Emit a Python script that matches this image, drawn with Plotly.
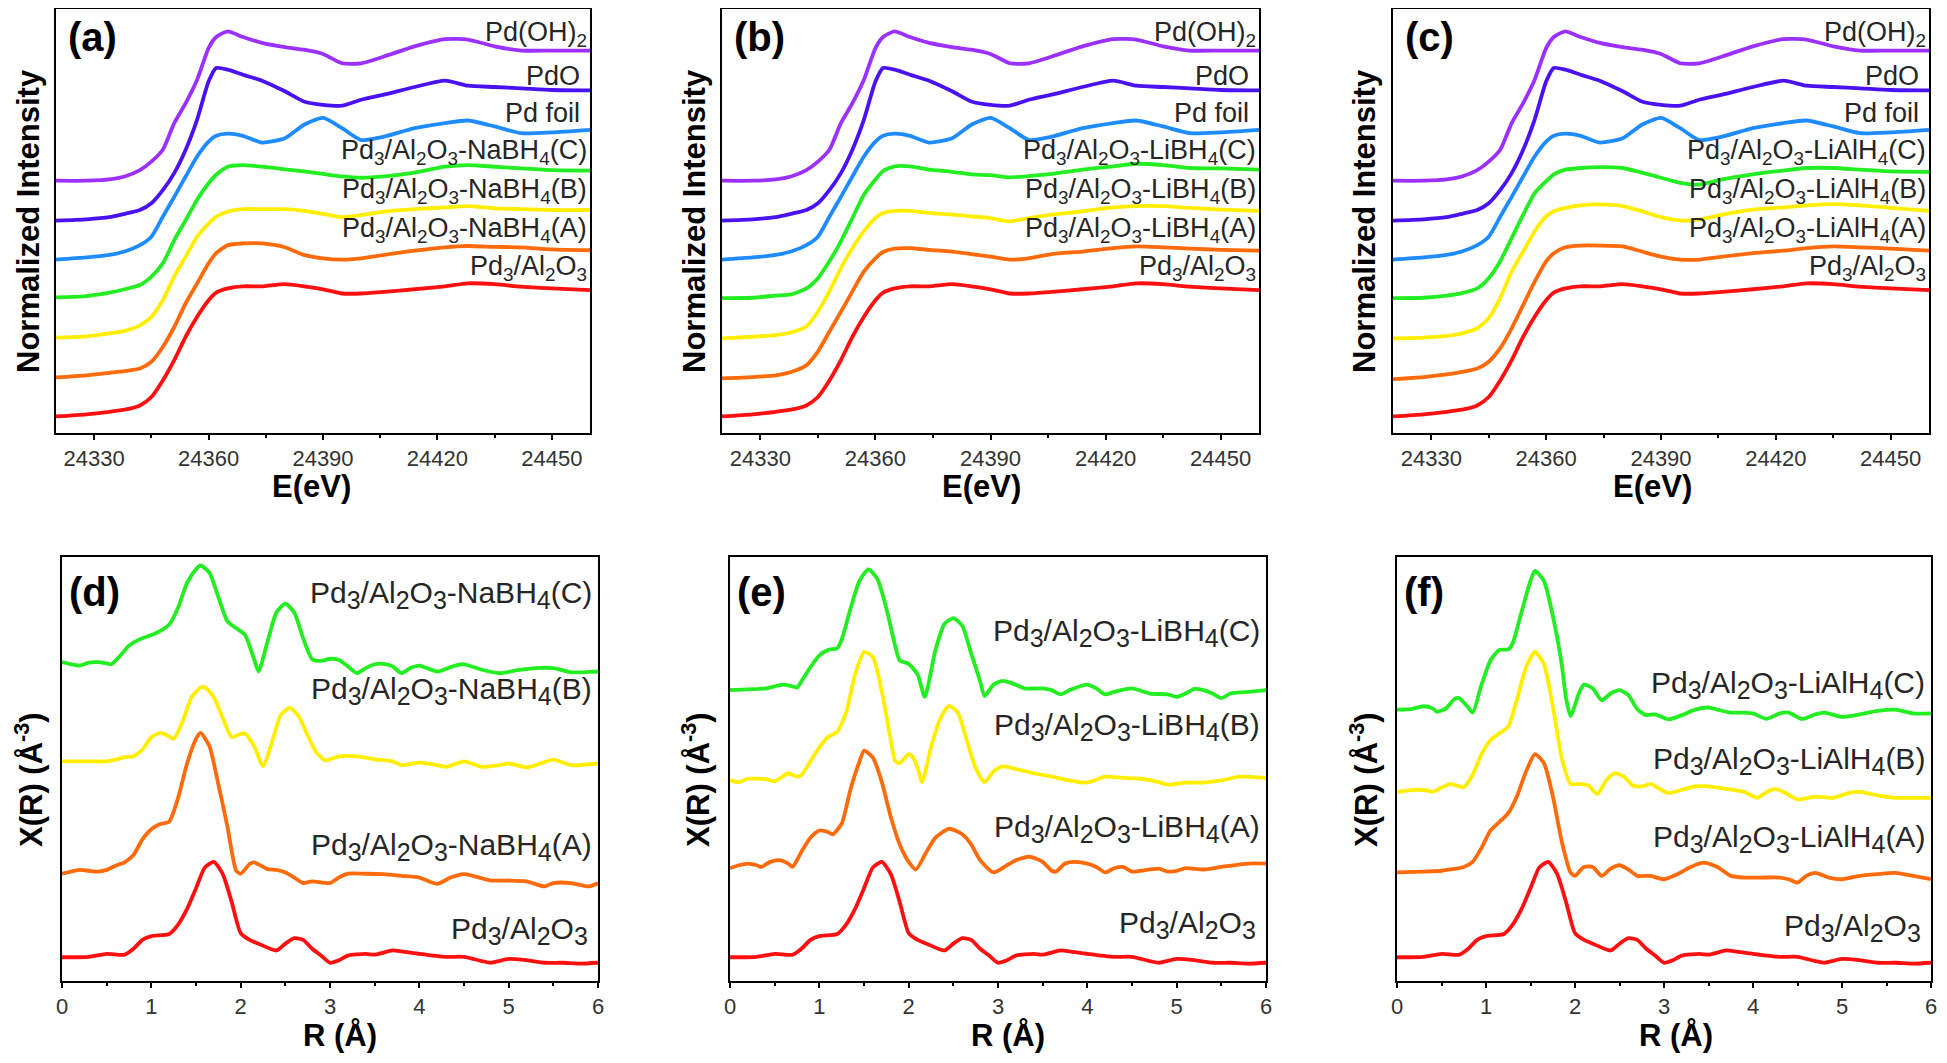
import plotly.graph_objects as go

# ---------------- XANES (a)-(c): energy grid in eV, stacked normalized intensity ----------------
energy = [24320, 24328, 24334, 24338, 24342, 24345, 24348, 24351, 24354, 24357,
          24360, 24362, 24365, 24369, 24374, 24380, 24385, 24390, 24395, 24400,
          24406, 24414, 24422, 24428, 24435, 24442, 24450, 24460]
energy_ticks = [24330, 24360, 24390, 24420, 24450]

pd_oh2 = [5.95, 5.95, 5.98, 6.05, 6.20, 6.40, 6.68, 7.31, 7.78, 8.33,
          9.08, 9.34, 9.47, 9.34, 9.20, 9.10, 9.04, 8.94, 8.72, 8.72,
          8.88, 9.12, 9.29, 9.28, 9.12, 9.02, 9.02, 9.02]
pdo = [5.01, 5.04, 5.09, 5.17, 5.26, 5.42, 5.73, 6.13, 6.68, 7.39,
       8.29, 8.61, 8.57, 8.45, 8.31, 8.06, 7.82, 7.74, 7.72, 7.86,
       7.98, 8.16, 8.31, 8.19, 8.16, 8.13, 8.09, 8.08]
pd_foil = [4.09, 4.14, 4.20, 4.28, 4.43, 4.63, 5.10, 5.57, 6.05, 6.52,
           6.87, 7.01, 7.06, 7.01, 6.85, 6.95, 7.27, 7.43, 7.19, 6.91,
           6.99, 7.19, 7.31, 7.37, 7.23, 7.07, 7.09, 7.15]
pd3_xanes = [0.39, 0.44, 0.50, 0.55, 0.65, 0.85, 1.24, 1.72, 2.27, 2.74,
             3.13, 3.31, 3.41, 3.46, 3.46, 3.51, 3.46, 3.39, 3.29, 3.29,
             3.33, 3.39, 3.46, 3.53, 3.51, 3.45, 3.41, 3.37]

nabh4_c_xanes = [3.20, 3.23, 3.31, 3.39, 3.49, 3.69, 4.00, 4.55, 5.02, 5.50,
                 5.89, 6.09, 6.28, 6.32, 6.28, 6.22, 6.17, 6.11, 6.05, 6.02,
                 6.05, 6.14, 6.28, 6.32, 6.28, 6.24, 6.20, 6.19]
nabh4_b_xanes = [2.25, 2.28, 2.35, 2.41, 2.54, 2.74, 3.13, 3.69, 4.16, 4.63,
                 4.94, 5.10, 5.22, 5.28, 5.28, 5.28, 5.24, 5.17, 5.09, 5.14,
                 5.22, 5.28, 5.32, 5.35, 5.30, 5.28, 5.26, 5.26]
nabh4_a_xanes = [1.31, 1.36, 1.42, 1.46, 1.52, 1.68, 2.03, 2.50, 3.06, 3.53,
                 4.00, 4.24, 4.43, 4.47, 4.47, 4.38, 4.20, 4.12, 4.09, 4.12,
                 4.20, 4.30, 4.38, 4.41, 4.39, 4.38, 4.33, 4.31]

libh4_c_xanes = [3.18, 3.19, 3.24, 3.27, 3.41, 3.65, 4.05, 4.52, 5.07, 5.62,
                 5.98, 6.18, 6.29, 6.29, 6.21, 6.16, 6.10, 6.08, 6.03, 6.06,
                 6.11, 6.21, 6.29, 6.35, 6.32, 6.25, 6.24, 6.21]
libh4_b_xanes = [2.23, 2.27, 2.31, 2.37, 2.51, 2.86, 3.34, 3.89, 4.36, 4.76,
                 5.07, 5.19, 5.24, 5.24, 5.19, 5.15, 5.11, 5.07, 4.99, 5.07,
                 5.15, 5.23, 5.32, 5.35, 5.35, 5.31, 5.27, 5.24]
libh4_a_xanes = [1.29, 1.32, 1.36, 1.44, 1.60, 1.92, 2.39, 2.86, 3.34, 3.81,
                 4.12, 4.27, 4.35, 4.36, 4.32, 4.28, 4.22, 4.16, 4.09, 4.12,
                 4.22, 4.28, 4.36, 4.40, 4.38, 4.35, 4.32, 4.30]

lialh4_c_xanes = [3.18, 3.19, 3.24, 3.30, 3.41, 3.65, 4.05, 4.60, 5.15, 5.66,
                  5.94, 6.10, 6.21, 6.25, 6.27, 6.25, 6.14, 6.02, 5.90, 5.86,
                  5.98, 6.10, 6.19, 6.25, 6.25, 6.21, 6.17, 6.16]
lialh4_b_xanes = [2.23, 2.25, 2.29, 2.35, 2.47, 2.71, 3.18, 3.81, 4.28, 4.76,
                  5.11, 5.23, 5.31, 5.37, 5.39, 5.35, 5.23, 5.09, 5.01, 5.03,
                  5.15, 5.27, 5.32, 5.37, 5.40, 5.37, 5.31, 5.24]
lialh4_a_xanes = [1.27, 1.32, 1.38, 1.44, 1.52, 1.68, 2.00, 2.47, 3.02, 3.57,
                  4.05, 4.24, 4.38, 4.42, 4.42, 4.40, 4.28, 4.16, 4.09, 4.09,
                  4.16, 4.24, 4.30, 4.36, 4.40, 4.38, 4.35, 4.30]

# ---------------- EXAFS (d)-(f): R in Angstrom, stacked |X(R)| ----------------
r_base = [0, 0.3, 0.5, 0.7, 0.8, 0.9, 1.0, 1.2, 1.3, 1.4, 1.5, 1.6, 1.7, 1.8, 1.9,
          2.0, 2.1, 2.2, 2.4, 2.5, 2.6, 2.7, 2.8, 2.9, 3.0, 3.1, 3.2, 3.4, 3.5, 3.7,
          3.8, 4.0, 4.3, 4.5, 4.7, 4.8, 5.0, 5.2, 5.4, 5.6, 5.8, 6.0]
chi_base = [0.56, 0.57, 0.64, 0.62, 0.76, 0.97, 1.06, 1.11, 1.33, 1.70, 2.19, 2.68, 2.81, 2.52, 1.86,
            1.13, 0.97, 0.88, 0.72, 0.88, 1.01, 0.97, 0.76, 0.60, 0.43, 0.49, 0.60, 0.64, 0.62, 0.72,
            0.70, 0.64, 0.57, 0.57, 0.47, 0.43, 0.52, 0.49, 0.43, 0.43, 0.41, 0.43]

r_nabh4_c = [0, 0.1, 0.2, 0.3, 0.4, 0.5, 0.55, 0.65, 0.75, 0.85, 1.0, 1.1, 1.2, 1.3, 1.4, 1.5, 1.55,
             1.65, 1.75, 1.85, 1.95, 2.05, 2.15, 2.2, 2.3, 2.4, 2.5, 2.6, 2.7, 2.8, 2.9, 3.0, 3.1,
             3.2, 3.3, 3.4, 3.5, 3.6, 3.7, 3.8, 3.9, 4.0, 4.2, 4.4, 4.5, 4.7, 4.9, 5.1, 5.3, 5.5,
             5.7, 5.9, 6.0]
chi_nabh4_c = [7.52, 7.47, 7.44, 7.51, 7.52, 7.49, 7.47, 7.67, 7.91, 8.04, 8.16, 8.26, 8.41, 8.81,
               9.39, 9.71, 9.80, 9.63, 9.06, 8.49, 8.32, 8.16, 7.59, 7.30, 8.00, 8.69, 8.90, 8.69,
               8.08, 7.59, 7.55, 7.60, 7.57, 7.42, 7.26, 7.38, 7.47, 7.48, 7.42, 7.26, 7.38, 7.44,
               7.30, 7.44, 7.47, 7.34, 7.26, 7.33, 7.38, 7.38, 7.28, 7.29, 7.30]
r_nabh4_b = [0, 0.3, 0.5, 0.6, 0.7, 0.8, 0.9, 1.0, 1.1, 1.2, 1.25, 1.35, 1.45, 1.55, 1.6, 1.7, 1.8,
             1.9, 2.0, 2.05, 2.15, 2.25, 2.35, 2.45, 2.55, 2.65, 2.75, 2.85, 2.95, 3.0, 3.1, 3.3,
             3.5, 3.7, 3.8, 4.0, 4.2, 4.3, 4.5, 4.7, 4.9, 5.0, 5.2, 5.3, 5.5, 5.7, 6.0]
chi_nabh4_b = [5.18, 5.18, 5.18, 5.22, 5.28, 5.30, 5.46, 5.75, 5.85, 5.77, 5.71, 6.12, 6.69, 6.92,
               6.93, 6.69, 6.20, 5.75, 5.83, 5.83, 5.54, 5.07, 5.63, 6.28, 6.44, 6.24, 5.79, 5.38,
               5.20, 5.23, 5.30, 5.30, 5.23, 5.18, 5.09, 5.15, 5.09, 5.05, 5.18, 5.05, 5.09, 5.13,
               5.04, 5.09, 5.22, 5.09, 5.13]
r_nabh4_a = [0, 0.2, 0.3, 0.4, 0.5, 0.6, 0.7, 0.8, 0.9, 1.0, 1.1, 1.2, 1.3, 1.4, 1.5, 1.55, 1.65,
             1.75, 1.85, 1.95, 2.0, 2.1, 2.15, 2.3, 2.4, 2.5, 2.6, 2.7, 2.8, 3.0, 3.1, 3.2, 3.4,
             3.6, 3.8, 4.0, 4.2, 4.35, 4.5, 4.6, 4.8, 5.0, 5.2, 5.4, 5.5, 5.7, 5.9, 6.0]
chi_nabh4_a = [2.53, 2.62, 2.60, 2.58, 2.62, 2.72, 2.80, 2.97, 3.34, 3.58, 3.70, 3.76, 4.32, 5.13,
               5.71, 5.85, 5.54, 4.64, 3.66, 2.60, 2.53, 2.76, 2.80, 2.64, 2.62, 2.56, 2.44, 2.31,
               2.35, 2.31, 2.44, 2.53, 2.53, 2.52, 2.48, 2.44, 2.29, 2.44, 2.52, 2.48, 2.37, 2.37,
               2.35, 2.23, 2.31, 2.31, 2.23, 2.31]

r_libh4_c = [0, 0.2, 0.4, 0.5, 0.6, 0.7, 0.75, 0.8, 0.9, 1.0, 1.1, 1.2, 1.25, 1.35, 1.45, 1.55,
             1.65, 1.75, 1.85, 1.9, 2.0, 2.1, 2.18, 2.3, 2.4, 2.5, 2.6, 2.7, 2.8, 2.85, 2.95, 3.05,
             3.15, 3.3, 3.5, 3.6, 3.7, 3.8, 4.0, 4.1, 4.2, 4.3, 4.5, 4.7, 4.9, 5.0, 5.1, 5.2, 5.3,
             5.4, 5.5, 5.6, 5.8, 6.0]
chi_libh4_c = [6.86, 6.88, 6.90, 6.95, 6.99, 6.95, 6.92, 7.07, 7.40, 7.68, 7.81, 7.85, 8.05, 8.79,
               9.44, 9.71, 9.48, 8.79, 7.89, 7.56, 7.48, 7.23, 6.70, 7.81, 8.42, 8.56, 8.38, 7.72,
               7.07, 6.72, 6.99, 7.08, 7.03, 6.90, 6.90, 6.86, 6.76, 6.86, 6.99, 6.90, 6.76, 6.82,
               6.90, 6.78, 6.76, 6.70, 6.78, 6.89, 6.86, 6.78, 6.67, 6.78, 6.82, 6.86]
r_libh4_b = [0, 0.1, 0.2, 0.4, 0.5, 0.6, 0.65, 0.75, 0.8, 0.9, 1.0, 1.1, 1.2, 1.3, 1.4, 1.5, 1.6,
             1.7, 1.8, 1.85, 1.9, 2.0, 2.05, 2.1, 2.15, 2.25, 2.35, 2.45, 2.55, 2.65, 2.75, 2.85,
             2.95, 3.05, 3.2, 3.4, 3.6, 3.8, 3.95, 4.05, 4.2, 4.4, 4.6, 4.8, 4.9, 5.1, 5.3, 5.5,
             5.7, 6.0]
chi_libh4_b = [4.73, 4.69, 4.77, 4.76, 4.71, 4.84, 4.90, 4.82, 4.86, 5.18, 5.51, 5.76, 5.88, 6.33,
               7.23, 7.76, 7.64, 6.82, 5.68, 5.18, 5.14, 5.35, 5.27, 5.02, 4.69, 5.51, 6.17, 6.49,
               6.33, 5.68, 5.02, 4.69, 4.94, 5.06, 5.00, 4.90, 4.82, 4.73, 4.68, 4.71, 4.82, 4.79,
               4.77, 4.69, 4.63, 4.68, 4.68, 4.73, 4.82, 4.79]
r_libh4_a = [0, 0.1, 0.2, 0.3, 0.35, 0.45, 0.55, 0.65, 0.7, 0.8, 0.9, 1.0, 1.1, 1.15, 1.25, 1.35,
             1.45, 1.5, 1.6, 1.7, 1.8, 1.9, 2.0, 2.08, 2.2, 2.3, 2.45, 2.6, 2.7, 2.8, 2.95, 3.1,
             3.2, 3.35, 3.5, 3.6, 3.65, 3.75, 3.85, 4.0, 4.1, 4.2, 4.3, 4.4, 4.5, 4.6, 4.8, 4.9,
             5.0, 5.1, 5.3, 5.5, 5.8, 6.0]
chi_libh4_a = [2.66, 2.73, 2.77, 2.73, 2.69, 2.81, 2.85, 2.77, 2.69, 3.05, 3.38, 3.55, 3.51, 3.46,
               3.71, 4.53, 5.18, 5.43, 5.27, 4.69, 3.87, 3.22, 2.81, 2.63, 3.05, 3.38, 3.59, 3.46,
               3.22, 2.85, 2.56, 2.73, 2.85, 2.93, 2.81, 2.60, 2.58, 2.77, 2.81, 2.77, 2.69, 2.56,
               2.66, 2.69, 2.58, 2.60, 2.65, 2.58, 2.60, 2.66, 2.63, 2.69, 2.77, 2.77]

r_lialh4_c = [0, 0.15, 0.3, 0.4, 0.45, 0.55, 0.65, 0.7, 0.8, 0.85, 0.95, 1.05, 1.15, 1.25, 1.3,
              1.4, 1.5, 1.55, 1.65, 1.75, 1.85, 1.9, 1.95, 2.05, 2.1, 2.2, 2.3, 2.4, 2.5, 2.6,
              2.7, 2.8, 2.9, 3.05, 3.2, 3.35, 3.5, 3.6, 3.75, 3.9, 4.0, 4.15, 4.3, 4.4, 4.55,
              4.7, 4.8, 5.0, 5.2, 5.4, 5.6, 5.8, 6.0]
chi_lialh4_c = [6.40, 6.41, 6.48, 6.43, 6.35, 6.43, 6.66, 6.67, 6.45, 6.33, 6.99, 7.56, 7.81, 7.82,
                7.97, 8.71, 9.44, 9.67, 9.44, 8.62, 7.48, 6.66, 6.25, 6.82, 6.99, 6.90, 6.62, 6.78,
                6.86, 6.74, 6.41, 6.27, 6.29, 6.17, 6.27, 6.40, 6.45, 6.40, 6.33, 6.33, 6.31, 6.18,
                6.31, 6.33, 6.18, 6.29, 6.33, 6.23, 6.29, 6.37, 6.40, 6.31, 6.31]
r_lialh4_b = [0, 0.2, 0.35, 0.4, 0.55, 0.6, 0.7, 0.75, 0.85, 0.95, 1.05, 1.15, 1.25, 1.35, 1.45,
              1.55, 1.65, 1.75, 1.85, 1.95, 2.05, 2.15, 2.25, 2.35, 2.45, 2.55, 2.65, 2.75, 2.85,
              2.95, 3.05, 3.2, 3.35, 3.5, 3.7, 3.9, 4.05, 4.15, 4.25, 4.35, 4.5, 4.7, 4.9, 5.1,
              5.2, 5.4, 5.6, 5.8, 6.0]
chi_lialh4_b = [4.46, 4.51, 4.49, 4.46, 4.61, 4.65, 4.59, 4.57, 4.86, 5.35, 5.68, 5.84, 6.00, 6.66,
                7.40, 7.76, 7.48, 6.49, 5.27, 4.65, 4.65, 4.61, 4.41, 4.73, 4.90, 4.82, 4.61, 4.59,
                4.65, 4.53, 4.43, 4.51, 4.59, 4.59, 4.53, 4.46, 4.32, 4.45, 4.53, 4.45, 4.28, 4.35,
                4.32, 4.45, 4.46, 4.38, 4.32, 4.32, 4.32]
r_lialh4_a = [0, 0.3, 0.5, 0.6, 0.75, 0.85, 0.95, 1.05, 1.15, 1.25, 1.35, 1.45, 1.55, 1.65, 1.75,
              1.85, 1.95, 2.0, 2.1, 2.2, 2.3, 2.4, 2.5, 2.6, 2.7, 2.85, 3.0, 3.15, 3.3, 3.45, 3.6,
              3.75, 3.9, 4.1, 4.3, 4.4, 4.5, 4.6, 4.7, 4.85, 5.0, 5.2, 5.4, 5.6, 5.8, 6.0]
chi_lialh4_a = [2.56, 2.58, 2.60, 2.63, 2.69, 2.81, 3.14, 3.55, 3.75, 3.96, 4.37, 4.94, 5.35, 5.14,
                4.37, 3.30, 2.56, 2.48, 2.69, 2.69, 2.48, 2.65, 2.73, 2.63, 2.48, 2.48, 2.40, 2.52,
                2.69, 2.79, 2.69, 2.48, 2.44, 2.44, 2.44, 2.40, 2.32, 2.48, 2.55, 2.44, 2.40, 2.48,
                2.52, 2.55, 2.48, 2.40]

# ---------------- styling ----------------
FONT = "Liberation Sans, Arial, sans-serif"
C_PDOH2 = "#9B30FF"
C_PDO = "#4A12F0"
C_FOIL = "#1E8CFF"
C_GREEN = "#22EE22"
C_YELLOW = "#FFEE00"
C_ORANGE = "#FF6A0A"
C_RED = "#FF1010"

# the page body keeps its default 8px margin, so the figure is made smaller by
# that much on each side and every pixel position below is shifted to match
PAGE_W, PAGE_H, BODY = 1947, 1063, 8
W, H = PAGE_W - 2 * BODY, PAGE_H - 2 * BODY

# plot boxes in page pixels
top_row = (9, 433)
bot_row = (557, 981)
top_cols = [(56, 590), (722, 1259), (1393, 1929)]
bot_cols = [(62, 598), (730, 1266), (1397, 1931)]
# axis title centres in page pixels
top_xtitle = [(311, 486), (981, 486), (1652, 486)]
bot_xtitle = [(340, 1035), (1008, 1035), (1676, 1035)]
top_ytitle = [(28, 221), (694, 221), (1364, 221)]
bot_ytitle = [(29, 780), (696, 780), (1364, 780)]


def fx(p):
    return (p - BODY) / W


def fy(p):
    return 1 - (p - BODY) / H


def formula(sub_size=None):
    # Pd3/Al2O3 with subscripts; bottom panels use bigger subscript digits
    def s(d):
        if sub_size:
            return f'<sub><span style="font-size:{sub_size}px">{d}</span></sub>'
        return f"<sub>{d}</sub>"
    return f"Pd{s(3)}/Al{s(2)}O{s(3)}", s


def pd3(reducer, tag, sub_size=None):
    base, s = formula(sub_size)
    return f"{base}-{reducer}{s(4)}({tag})"


def ax_name(i, kind):
    return kind if i == 1 else f"{kind}{i}"


def paper_text(text, px, py, angle=0):
    return dict(text=text, xref="paper", yref="paper", x=fx(px), y=fy(py),
                xanchor="center", yanchor="middle", showarrow=False, textangle=angle,
                font=dict(family=FONT, size=31, color="black"))


fig = go.Figure()


def add_curve(i, x, y, color):
    fig.add_trace(go.Scatter(
        x=x, y=y, mode="lines",
        line=dict(color=color, width=3.8, shape="spline", smoothing=0.6),
        xaxis=ax_name(i, "x"), yaxis=ax_name(i, "y"),
        showlegend=False, hoverinfo="skip"))


xanes_panels = [
    ("(a)", "NaBH", nabh4_c_xanes, nabh4_b_xanes, nabh4_a_xanes),
    ("(b)", "LiBH", libh4_c_xanes, libh4_b_xanes, libh4_a_xanes),
    ("(c)", "LiAlH", lialh4_c_xanes, lialh4_b_xanes, lialh4_a_xanes),
]
exafs_panels = [
    ("(d)", "NaBH",
     (r_nabh4_c, chi_nabh4_c), (r_nabh4_b, chi_nabh4_b), (r_nabh4_a, chi_nabh4_a),
     [9.1, 6.85, 3.17, 1.17]),
    ("(e)", "LiBH",
     (r_libh4_c, chi_libh4_c), (r_libh4_b, chi_libh4_b), (r_libh4_a, chi_libh4_a),
     [8.21, 6.0, 3.59, 1.33]),
    ("(f)", "LiAlH",
     (r_lialh4_c, chi_lialh4_c), (r_lialh4_b, chi_lialh4_b), (r_lialh4_a, chi_lialh4_a),
     [6.99, 5.18, 3.34, 1.25]),
]

layout = dict(
    width=W, height=H, margin=dict(l=0, r=0, t=0, b=0, autoexpand=False),
    paper_bgcolor="white", plot_bgcolor="white",
    font=dict(family=FONT, color="#222222"),
    annotations=[],
)

line_style = dict(showline=True, linecolor="black", linewidth=1.6, mirror=True,
                  showgrid=False, zeroline=False, automargin=False)
tick_font = dict(family=FONT, size=22, color="#333333")

for k, (letter, red, c_y, b_y, a_y) in enumerate(xanes_panels):
    i = k + 1
    add_curve(i, energy, pd3_xanes, C_RED)
    add_curve(i, energy, a_y, C_ORANGE)
    add_curve(i, energy, b_y, C_YELLOW)
    add_curve(i, energy, c_y, C_GREEN)
    add_curve(i, energy, pd_foil, C_FOIL)
    add_curve(i, energy, pdo, C_PDO)
    add_curve(i, energy, pd_oh2, C_PDOH2)

    l, r = top_cols[k]
    layout[f"xaxis{i if i > 1 else ''}"] = dict(
        domain=[fx(l), fx(r)], anchor=ax_name(i, "y"), range=[24320, 24460],
        tickmode="array", tickvals=energy_ticks, ticktext=[str(t) for t in energy_ticks],
        ticks="outside", ticklen=5, tickwidth=1.6, tickcolor="black",
        minor=dict(tickvals=[24345, 24375, 24405, 24435], ticks="outside",
                   ticklen=3, tickwidth=1.6, tickcolor="black"),
        tickfont=tick_font, ticklabeloverflow="allow", **line_style)
    layout[f"yaxis{i if i > 1 else ''}"] = dict(
        domain=[fy(top_row[1]), fy(top_row[0])], anchor=ax_name(i, "x"),
        range=[0, 10], showticklabels=False, ticks="", **line_style)

    layout["annotations"].append(paper_text("<b>E(eV)</b>", *top_xtitle[k]))
    layout["annotations"].append(paper_text("<b>Normalized Intensity</b>", *top_ytitle[k], angle=-90))

    xd, yd = ax_name(i, "x") + " domain", ax_name(i, "y") + " domain"
    ya = ax_name(i, "y")
    layout["annotations"].append(dict(
        text=f"<b>{letter}</b>", xref=xd, yref=yd, x=0.018, y=0.99,
        xanchor="left", yanchor="top", showarrow=False,
        font=dict(family=FONT, size=40, color="black")))
    labels = [
        ("Pd(OH)<sub>2</sub>", 9.42, 0.998),
        ("PdO", 8.41, 0.985),
        ("Pd foil", 7.54, 0.985),
        (pd3(red, "C"), 6.62, 0.998),
        (pd3(red, "B"), 5.70, 0.998),
        (pd3(red, "A"), 4.79, 0.998),
        (formula()[0], 3.88, 0.998),
    ]
    for txt, yv, xv in labels:
        layout["annotations"].append(dict(
            text=txt, xref=xd, yref=ya, x=xv, y=yv, xanchor="right",
            yanchor="middle", showarrow=False,
            font=dict(family=FONT, size=27, color="#262626")))

for k, (letter, red, c_d, b_d, a_d, label_y) in enumerate(exafs_panels):
    i = k + 4
    add_curve(i, r_base, chi_base, C_RED)
    add_curve(i, a_d[0], a_d[1], C_ORANGE)
    add_curve(i, b_d[0], b_d[1], C_YELLOW)
    add_curve(i, c_d[0], c_d[1], C_GREEN)

    l, r = bot_cols[k]
    layout[f"xaxis{i}"] = dict(
        domain=[fx(l), fx(r)], anchor=ax_name(i, "y"), range=[0, 6],
        tickmode="linear", tick0=0, dtick=1,
        ticks="outside", ticklen=5, tickwidth=1.6, tickcolor="black",
        minor=dict(dtick=0.5, tick0=0, ticks="outside", ticklen=3,
                   tickwidth=1.6, tickcolor="black"),
        tickfont=tick_font, ticklabeloverflow="allow", **line_style)
    layout[f"yaxis{i}"] = dict(
        domain=[fy(bot_row[1]), fy(bot_row[0])], anchor=ax_name(i, "x"),
        range=[0, 10], showticklabels=False, ticks="", **line_style)

    layout["annotations"].append(paper_text("<b>R (Å)</b>", *bot_xtitle[k]))
    layout["annotations"].append(paper_text("<b>X(R) (Å<sup>-3</sup>)</b>", *bot_ytitle[k], angle=-90))

    xd, yd = ax_name(i, "x") + " domain", ax_name(i, "y") + " domain"
    ya = ax_name(i, "y")
    layout["annotations"].append(dict(
        text=f"<b>{letter}</b>", xref=xd, yref=yd, x=0.01, y=0.975,
        xanchor="left", yanchor="top", showarrow=False,
        font=dict(family=FONT, size=40, color="black")))
    texts = [pd3(red, "C", 25), pd3(red, "B", 25), pd3(red, "A", 25), formula(25)[0]]
    xs = [0.993, 0.993, 0.993, 0.985]
    for txt, yv, xv in zip(texts, label_y, xs):
        layout["annotations"].append(dict(
            text=txt, xref=xd, yref=ya, x=xv, y=yv, xanchor="right",
            yanchor="middle", showarrow=False,
            font=dict(family=FONT, size=30, color="#262626")))

fig.update_layout(**layout)
fig.write_html("out.html")
